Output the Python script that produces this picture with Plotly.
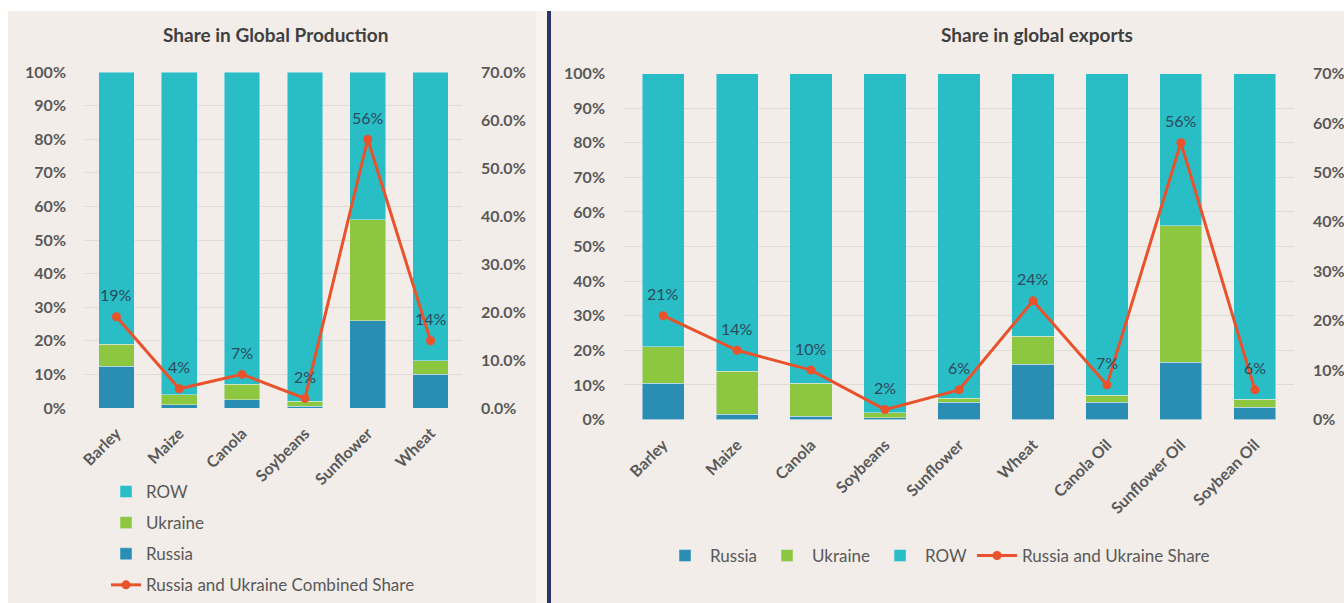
import plotly.graph_objects as go

# ---------------- data ----------------
prod_categories = ["Barley", "Maize", "Canola", "Soybeans", "Sunflower", "Wheat"]
prod_russia = [12.5, 1.0, 2.5, 0.5, 26.0, 10.0]
prod_ukraine = [6.5, 3.0, 4.5, 1.5, 30.0, 4.0]
prod_row = [81.0, 96.0, 93.0, 98.0, 44.0, 86.0]
prod_combined = [19, 4, 7, 2, 56, 14]

exp_categories = ["Barley", "Maize", "Canola", "Soybeans", "Sunflower", "Wheat",
                  "Canola Oil", "Sunflower Oil", "Soybean Oil"]
exp_russia = [10.5, 1.5, 1.0, 0.5, 5.0, 16.0, 5.0, 16.5, 3.5]
exp_ukraine = [10.5, 12.5, 9.5, 1.5, 1.2, 8.0, 2.0, 39.5, 2.3]
exp_row = [79.0, 86.0, 89.5, 98.0, 93.8, 76.0, 93.0, 44.0, 94.2]
exp_combined = [21, 14, 10, 2, 6, 24, 7, 56, 6]

left_ticks = list(range(0, 101, 10))
right_ticks = list(range(0, 71, 10))

# ---------------- style ----------------
W, H = 1344, 603
C_RUS = "#2a8db4"
C_UKR = "#8dc63f"
C_ROW = "#29bdc6"
C_LINE = "#e9522b"
C_LABEL = "#2e4a5b"
C_TICK = "#595959"
FONT = "Lato, 'Open Sans', sans-serif"
BG = "#f2ede8"

def px_x(v):
    return v / W

def px_y(v):
    return 1 - v / H

fig = go.Figure()

# ---- left chart: production ----
fig.add_trace(go.Bar(x=prod_categories, y=prod_russia, name="Russia", marker_color=C_RUS,
                     xaxis="x", yaxis="y", legend="legend", legendgroup="pr", legendrank=3))
fig.add_trace(go.Bar(x=prod_categories, y=prod_ukraine, name="Ukraine", marker_color=C_UKR,
                     xaxis="x", yaxis="y", legend="legend", legendgroup="pu", legendrank=2))
fig.add_trace(go.Bar(x=prod_categories, y=prod_row, name="ROW", marker_color=C_ROW,
                     xaxis="x", yaxis="y", legend="legend", legendgroup="pw", legendrank=1))
fig.add_trace(go.Scatter(x=prod_categories, y=prod_combined, name="Russia and Ukraine Combined Share",
                         mode="lines+markers", line=dict(color=C_LINE, width=3),
                         marker=dict(color=C_LINE, size=9),
                         xaxis="x", yaxis="y2", legend="legend", legendgroup="pc", legendrank=4))

# ---- right chart: exports ----
fig.add_trace(go.Bar(x=exp_categories, y=exp_russia, name="Russia", marker_color=C_RUS,
                     xaxis="x2", yaxis="y3", legend="legend2", legendrank=1))
fig.add_trace(go.Bar(x=exp_categories, y=exp_ukraine, name="Ukraine", marker_color=C_UKR,
                     xaxis="x2", yaxis="y3", legend="legend2", legendrank=2))
fig.add_trace(go.Bar(x=exp_categories, y=exp_row, name="ROW", marker_color=C_ROW,
                     xaxis="x2", yaxis="y3", legend="legend2", legendrank=3))
fig.add_trace(go.Scatter(x=exp_categories, y=exp_combined, name="Russia and Ukraine Share",
                         mode="lines+markers", line=dict(color=C_LINE, width=3),
                         marker=dict(color=C_LINE, size=9),
                         xaxis="x2", yaxis="y4", legend="legend2", legendrank=4))

# ---- data labels above line points ----
annotations = []
for cat, v in zip(prod_categories, prod_combined):
    annotations.append(dict(x=cat, y=v, xref="x", yref="y2", text=f"{v}%", showarrow=False,
                            yshift=22, font=dict(family=FONT, size=16, color=C_LABEL)))
for cat, v in zip(exp_categories, exp_combined):
    annotations.append(dict(x=cat, y=v, xref="x2", yref="y4", text=f"{v}%", showarrow=False,
                            yshift=22, font=dict(family=FONT, size=16, color=C_LABEL)))

# ---- titles ----
annotations.append(dict(x=px_x(275), y=px_y(35), xref="paper", yref="paper",
                        text="<b>Share in Global Production</b>", showarrow=False,
                        xanchor="center", yanchor="middle",
                        font=dict(family=FONT, size=19, color="#404040")))
annotations.append(dict(x=px_x(1037), y=px_y(35), xref="paper", yref="paper",
                        text="<b>Share in global exports</b>", showarrow=False,
                        xanchor="center", yanchor="middle",
                        font=dict(family=FONT, size=19, color="#404040")))

tickfont = dict(family=FONT, size=16, color=C_TICK, weight="bold")

left_y_dom = [px_y(408), px_y(72)]
right_y_dom = [px_y(419.5), px_y(73.5)]

common_x = dict(tickangle=-45, tickfont=tickfont, showgrid=False, zeroline=False,
                showline=False, ticks="", ticklabelstandoff=12, automargin=False)
common_y = dict(tickfont=tickfont, zeroline=False, ticks="", ticklabelstandoff=18,
                automargin=False)

fig.update_layout(
    width=W, height=H, autosize=False,
    margin=dict(l=0, r=0, t=0, b=0, pad=0),
    paper_bgcolor=BG, plot_bgcolor="rgba(0,0,0,0)",
    barmode="stack", bargap=0.43,
    font=dict(family=FONT, color=C_TICK),
    annotations=annotations,
    xaxis=dict(domain=[px_x(85), px_x(462)], anchor="y", **common_x),
    yaxis=dict(domain=left_y_dom, anchor="x", range=[0, 100], tickvals=left_ticks,
               ticktext=[f"{t}%" for t in left_ticks],
               showgrid=True, gridcolor="#dedad5", gridwidth=1, **common_y),
    yaxis2=dict(overlaying="y", side="right", anchor="x", range=[0, 70], tickvals=right_ticks,
                ticktext=[f"{t:.1f}%" for t in right_ticks], showgrid=False, **common_y),
    xaxis2=dict(domain=[px_x(624), px_x(1294)], anchor="y3", **common_x),
    yaxis3=dict(domain=right_y_dom, anchor="x2", range=[0, 100], tickvals=left_ticks,
                ticktext=[f"{t}%" for t in left_ticks],
                showgrid=True, gridcolor="#dedad5", gridwidth=1, **common_y),
    yaxis4=dict(overlaying="y3", side="right", anchor="x2", range=[0, 70], tickvals=right_ticks,
                ticktext=[f"{t}%" for t in right_ticks], showgrid=False, **common_y),
    legend=dict(orientation="v", x=px_x(106), y=0, xanchor="left", yanchor="bottom",
                traceorder="grouped", tracegroupgap=6, bgcolor="rgba(0,0,0,0)",
                font=dict(family=FONT, size=17, color=C_TICK)),
    legend2=dict(orientation="h", x=px_x(660), y=px_y(556), xanchor="left", yanchor="middle",
                 traceorder="normal", bgcolor="rgba(0,0,0,0)", itemwidth=40,
                 font=dict(family=FONT, size=17, color=C_TICK)),
    shapes=[
        dict(type="rect", xref="paper", yref="paper", x0=0, x1=1, y0=px_y(11), y1=1,
             fillcolor="white", line_width=0, layer="below"),
        dict(type="rect", xref="paper", yref="paper", x0=0, x1=px_x(8), y0=0, y1=1,
             fillcolor="white", line_width=0, layer="below"),
        dict(type="rect", xref="paper", yref="paper", x0=px_x(536), x1=px_x(547), y0=0, y1=px_y(11),
             fillcolor="#f8f4f0", line_width=0, layer="below"),
        dict(type="rect", xref="paper", yref="paper", x0=px_x(547), x1=px_x(551), y0=0, y1=px_y(11),
             fillcolor="#2c3468", line_width=0, layer="below"),
    ],
)

fig.write_html("out.html", config={"displayModeBar": False},
               post_script="document.body.style.margin='0';")
